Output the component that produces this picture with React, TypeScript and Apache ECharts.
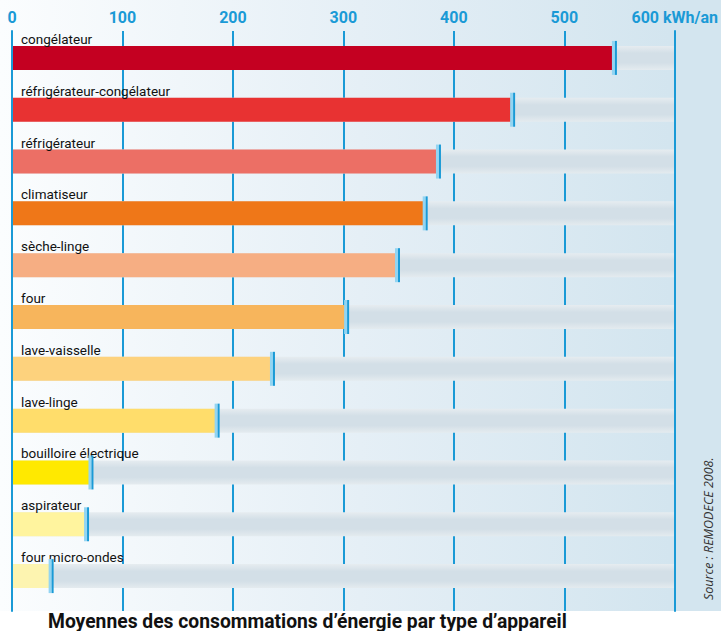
import React, { useEffect, useRef } from "react";
import * as echarts from "echarts";

const categories = [
  "congélateur",
  "réfrigérateur-congélateur",
  "réfrigérateur",
  "climatiseur",
  "sèche-linge",
  "four",
  "lave-vaisselle",
  "lave-linge",
  "bouilloire électrique",
  "aspirateur",
  "four micro-ondes",
];
const values = [543, 451, 384, 372, 347, 301, 234, 184, 70, 66, 34];
const barColors = [
  "#c40021",
  "#e83232",
  "#ec6f65",
  "#ef7718",
  "#f6ae83",
  "#f7b55c",
  "#fdd27d",
  "#ffdd6b",
  "#ffe900",
  "#fff49e",
  "#fdf4b0",
];
const trackMax = 600;
const tickValues = [0, 100, 200, 300, 400, 500, 600];
const unit = "kWh/an";
const title = "Moyennes des consommations d’énergie par type d’appareil";
const source = "Source : REMODECE 2008.";

const BLUE = "#1a9ad6";

export default function App() {
  const ref = useRef<HTMLDivElement>(null);
  useEffect(() => {
    document.body.style.margin = "0";
    const chart = echarts.init(ref.current!, null, { renderer: "svg" });
    const option: any = {
      animation: false,
      graphic: {
        elements: [
          {
            type: "rect",
            z: -100,
            silent: true,
            shape: { x: 0, y: 0, width: 721, height: 611 },
            style: {
              fill: new echarts.graphic.LinearGradient(0, 0, 1, 0, [
                { offset: 0, color: "#fbfdfe" },
                { offset: 0.5, color: "#e5eff6" },
                { offset: 0.93, color: "#d3e5ef" },
                { offset: 1, color: "#d3e5ef" },
              ]),
            },
          },
          {
            type: "text",
            x: 48,
            y: 621,
            style: {
              text: title,
              font: "bold 19.3px Roboto",
              fill: "#111",
              verticalAlign: "middle",
            },
          },
          {
            type: "text",
            x: 708,
            y: 600,
            rotation: Math.PI / 2,
            style: {
              text: source,
              font: "italic 12.5px 'Open Sans'",
              fill: "#333",
              verticalAlign: "middle",
              align: "left",
            },
          },
        ],
      },
      grid: [
        { left: 12, right: 45, top: 31, bottom: 20 },
        { left: 12, right: 45, top: 32, bottom: 29 },
      ],
      xAxis: [
        {
          gridIndex: 0,
          type: "value",
          position: "top",
          min: 0,
          max: 600,
          interval: 100,
          axisLine: { show: false },
          axisTick: { show: false },
          axisLabel: {
            margin: 6,
            color: BLUE,
            fontFamily: "Roboto",
            fontWeight: "bold",
            fontSize: 16,
            formatter: (v: number) => (v === tickValues[tickValues.length - 1] ? `${v} ${unit}` : `${v}`),
          },
          splitLine: { show: true, lineStyle: { color: BLUE, width: 2 } },
        },
        {
          gridIndex: 1,
          type: "value",
          min: 0,
          max: 600,
          show: false,
        },
      ],
      yAxis: [
        {
          gridIndex: 0,
          type: "value",
          min: 0,
          max: 1,
          position: "left",
          z: 10,
          axisLine: { show: true, lineStyle: { color: BLUE, width: 2 } },
          axisTick: { show: false },
          axisLabel: { show: false },
          splitLine: { show: false },
        },
        {
          gridIndex: 0,
          type: "value",
          min: 0,
          max: 1,
          position: "right",
          z: 10,
          axisLine: { show: true, lineStyle: { color: BLUE, width: 2 } },
          axisTick: { show: false },
          axisLabel: { show: false },
          splitLine: { show: false },
        },
        {
          gridIndex: 1,
          type: "category",
          inverse: true,
          data: categories,
          axisLine: { show: false },
          axisTick: { show: false },
          splitLine: { show: false },
          axisLabel: { show: false },
        },
      ],
      series: [
        {
          type: "bar",
          xAxisIndex: 1,
          yAxisIndex: 2,
          data: categories.map(() => trackMax),
          barWidth: 24,
          barGap: "-100%",
          silent: true,
          label: {
            show: true,
            position: [9, 0],
            verticalAlign: "bottom",
            align: "left",
            formatter: "{b}",
            color: "#111",
            fontFamily: "Roboto",
            fontSize: 13.5,
          },
          itemStyle: {
            color: new echarts.graphic.LinearGradient(0, 0, 0, 1, [
              { offset: 0, color: "#e6ecf0" },
              { offset: 0.3, color: "#d3dfe7" },
              { offset: 0.7, color: "#d3dfe7" },
              { offset: 1, color: "#e4ebef" },
            ]),
          },
        },
        {
          type: "bar",
          xAxisIndex: 1,
          yAxisIndex: 2,
          data: values.map((v, i) => ({ value: v, itemStyle: { color: barColors[i] } })),
          barWidth: 24,
          barGap: "-100%",
        },
        {
          type: "custom",
          xAxisIndex: 1,
          yAxisIndex: 2,
          data: values.map((v, i) => [v, i]),
          encode: { x: 0, y: 1 },
          z: 5,
          renderItem: (params: any, api: any) => {
            const p = api.coord([api.value(0), api.value(1)]);
            return {
              type: "group",
              children: [
                {
                  type: "rect",
                  shape: { x: p[0] - 1, y: p[1] - 17, width: 3, height: 34 },
                  style: { fill: "#93d5f2" },
                },
                {
                  type: "rect",
                  shape: { x: p[0] + 2, y: p[1] - 17, width: 2, height: 34 },
                  style: { fill: BLUE },
                },
              ],
            };
          },
        },
      ],
    };
    chart.setOption(option);
    return () => chart.dispose();
  }, []);
  return <div ref={ref} style={{ width: 721, height: 631 }} />;
}
